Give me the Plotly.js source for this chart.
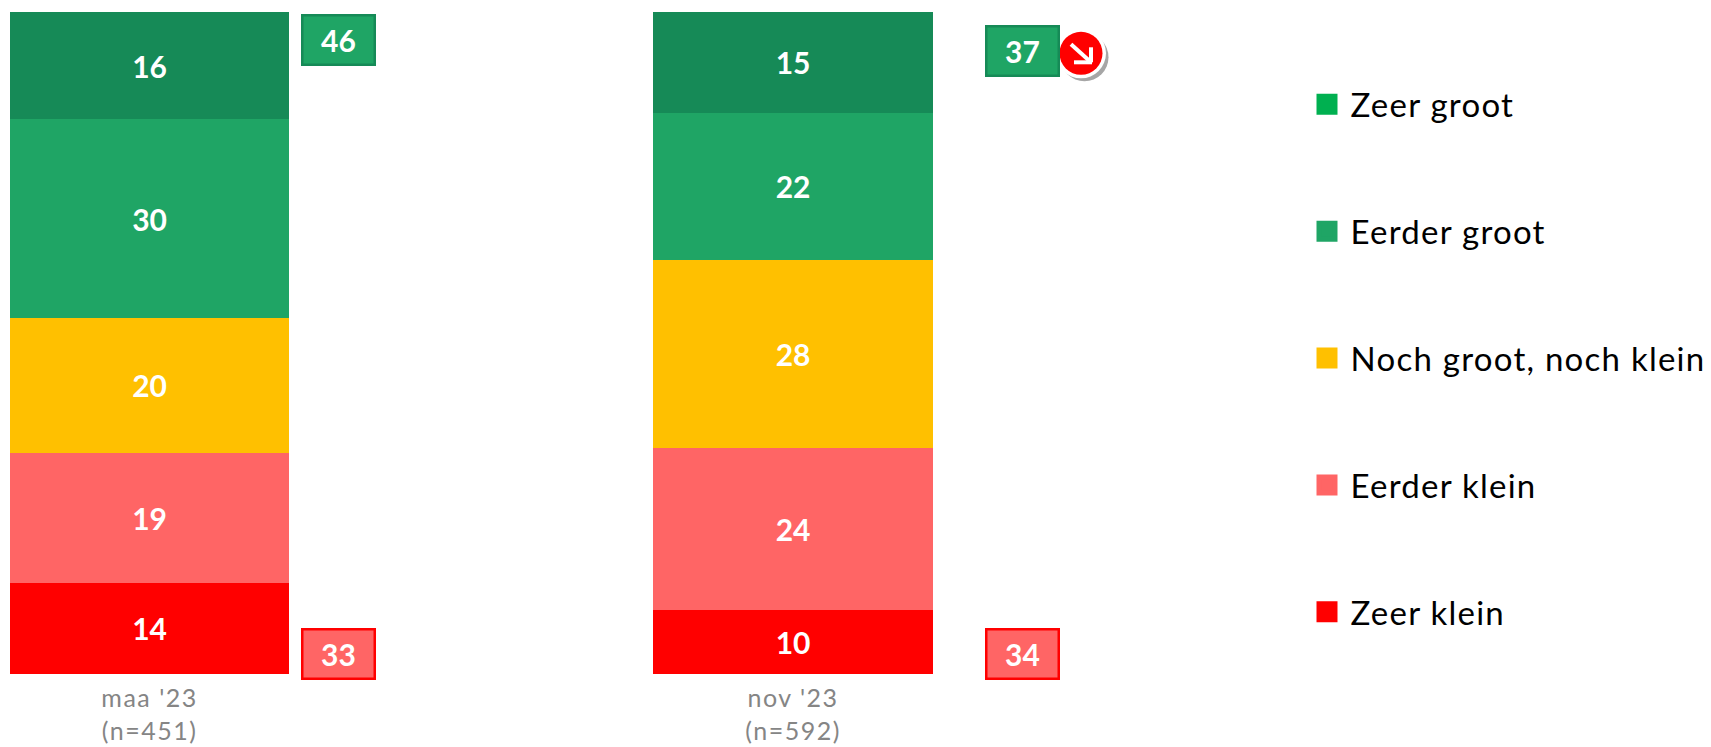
<!DOCTYPE html>
<html><head><meta charset="utf-8">
<script src="https://cdn.plot.ly/plotly-3.0.1.min.js"></script>
<style>html,body{margin:0;padding:0;background:#fff}#c{width:1711px;height:747px}
.legendtext{letter-spacing:1.25px}.xtick text{letter-spacing:1.5px}</style>
</head><body><div id="c"></div>
<script>
const categories = ["maa '23<br>(n=451)", "nov '23<br>(n=592)"];
const seriesNames = ["Zeer klein", "Eerder klein", "Noch groot, noch klein", "Eerder groot", "Zeer groot"];
const zeerKlein = [13.8, 9.7];
const eerderKlein = [19.6, 24.4];
const noch = [20.4, 28.5];
const eerderGroot = [30.0, 22.2];
const zeerGroot = [16.2, 15.2];
const labelsZeerKlein = ["14", "10"];
const labelsEerderKlein = ["19", "24"];
const labelsNoch = ["20", "28"];
const labelsEerderGroot = ["30", "22"];
const labelsZeerGroot = ["16", "15"];
const topTotals = ["46", "37"];
const bottomTotals = ["33", "34"];
const barColors = ["#FF0000", "#FF6565", "#FFC000", "#1FA565", "#168A57"];
const legendColors = ["#FF0000", "#FF6565", "#FFC000", "#1FA565", "#00B050"];

const W = 1711, H = 747, T = 11.7, B = 673.7;
const px = v => v / W, py = v => (B - v) / (B - T);
const FONT = "Lato, 'Open Sans', sans-serif";

const vals = [zeerKlein, eerderKlein, noch, eerderGroot, zeerGroot];
const labs = [labelsZeerKlein, labelsEerderKlein, labelsNoch, labelsEerderGroot, labelsZeerGroot];
const traces = [];
seriesNames.forEach((n, i) => traces.push({
  type: 'bar', x: categories, y: vals[i], text: labs[i], name: n, showlegend: false,
  textposition: 'inside', insidetextanchor: 'middle', textangle: 0, constraintext: 'none',
  insidetextfont: {family: FONT, size: 30, color: '#fff', weight: 700},
  marker: {color: barColors[i], line: {width: 0}}, hoverinfo: 'skip', width: 0.4345
}));
for (let i = seriesNames.length - 1; i >= 0; i--) {
  const n = seriesNames[i];
  traces.push({
    type: 'scatter', mode: 'markers', x: [categories[0]], y: [null], name: n, legendgroup: n,
    marker: {symbol: 'square', size: 16, color: legendColors[i], line: {width: 7, color: legendColors[i]}}
  });
}

function box(cx, cy, txt, fill, border) {
  return {xref: 'paper', yref: 'paper', x: px(cx), y: py(cy), xanchor: 'center', yanchor: 'middle',
    text: '<b>' + txt + '</b>', showarrow: false, width: 70, height: 47, bgcolor: fill, bordercolor: border,
    borderwidth: 2.5, borderpad: 0, font: {family: FONT, size: 30, color: '#fff'}};
}
const annotations = [
  box(338.5, 40, topTotals[0], '#1FA565', '#168A57'),
  box(1022, 51, topTotals[1], '#1FA565', '#168A57'),
  box(338.5, 654, bottomTotals[0], '#FF6565', '#FF0000'),
  box(1022, 654, bottomTotals[1], '#FF6565', '#FF0000')
];
function circle(cx, cy, r, fill) {
  return {type: 'circle', xref: 'paper', yref: 'paper', layer: 'above',
    x0: px(cx - r), x1: px(cx + r), y0: py(cy + r), y1: py(cy - r), fillcolor: fill, line: {width: 0}};
}
function seg(x0, y0, x1, y1) {
  return {type: 'line', xref: 'paper', yref: 'paper', layer: 'above',
    x0: px(x0), y0: py(y0), x1: px(x1), y1: py(y1), line: {color: '#fff', width: 4}};
}
const shapes = [
  circle(1084.5, 57, 24, '#A6A6A6'),
  circle(1081, 53, 25, '#FFFFFF'),
  circle(1081, 53, 21.5, '#FF0000'),
  seg(1071, 44, 1091, 62), seg(1074, 62, 1092, 62), seg(1091, 62, 1091, 47)
];
const layout = {
  width: W, height: H, margin: {l: 0, r: 0, t: T, b: H - B, pad: 0},
  paper_bgcolor: '#fff', plot_bgcolor: '#fff', barmode: 'stack', showlegend: true,
  xaxis: {type: 'category', range: [-0.2324, 2.4265], showgrid: false, zeroline: false, showline: false, ticks: '',
    ticklabelstandoff: 7, tickfont: {family: FONT, size: 25, color: '#858585'}, fixedrange: true},
  yaxis: {range: [0, 100], visible: false, fixedrange: true},
  legend: {x: px(1303.5), y: py(76), xanchor: 'left', yanchor: 'top', traceorder: 'grouped', tracegroupgap: 81,
    itemwidth: 37, font: {family: FONT, size: 33, color: '#000'}, bgcolor: 'rgba(0,0,0,0)', itemclick: false, itemdoubleclick: false},
  annotations, shapes
};
Plotly.newPlot('c', traces, layout, {displayModeBar: false, staticPlot: true});
</script></body></html>
